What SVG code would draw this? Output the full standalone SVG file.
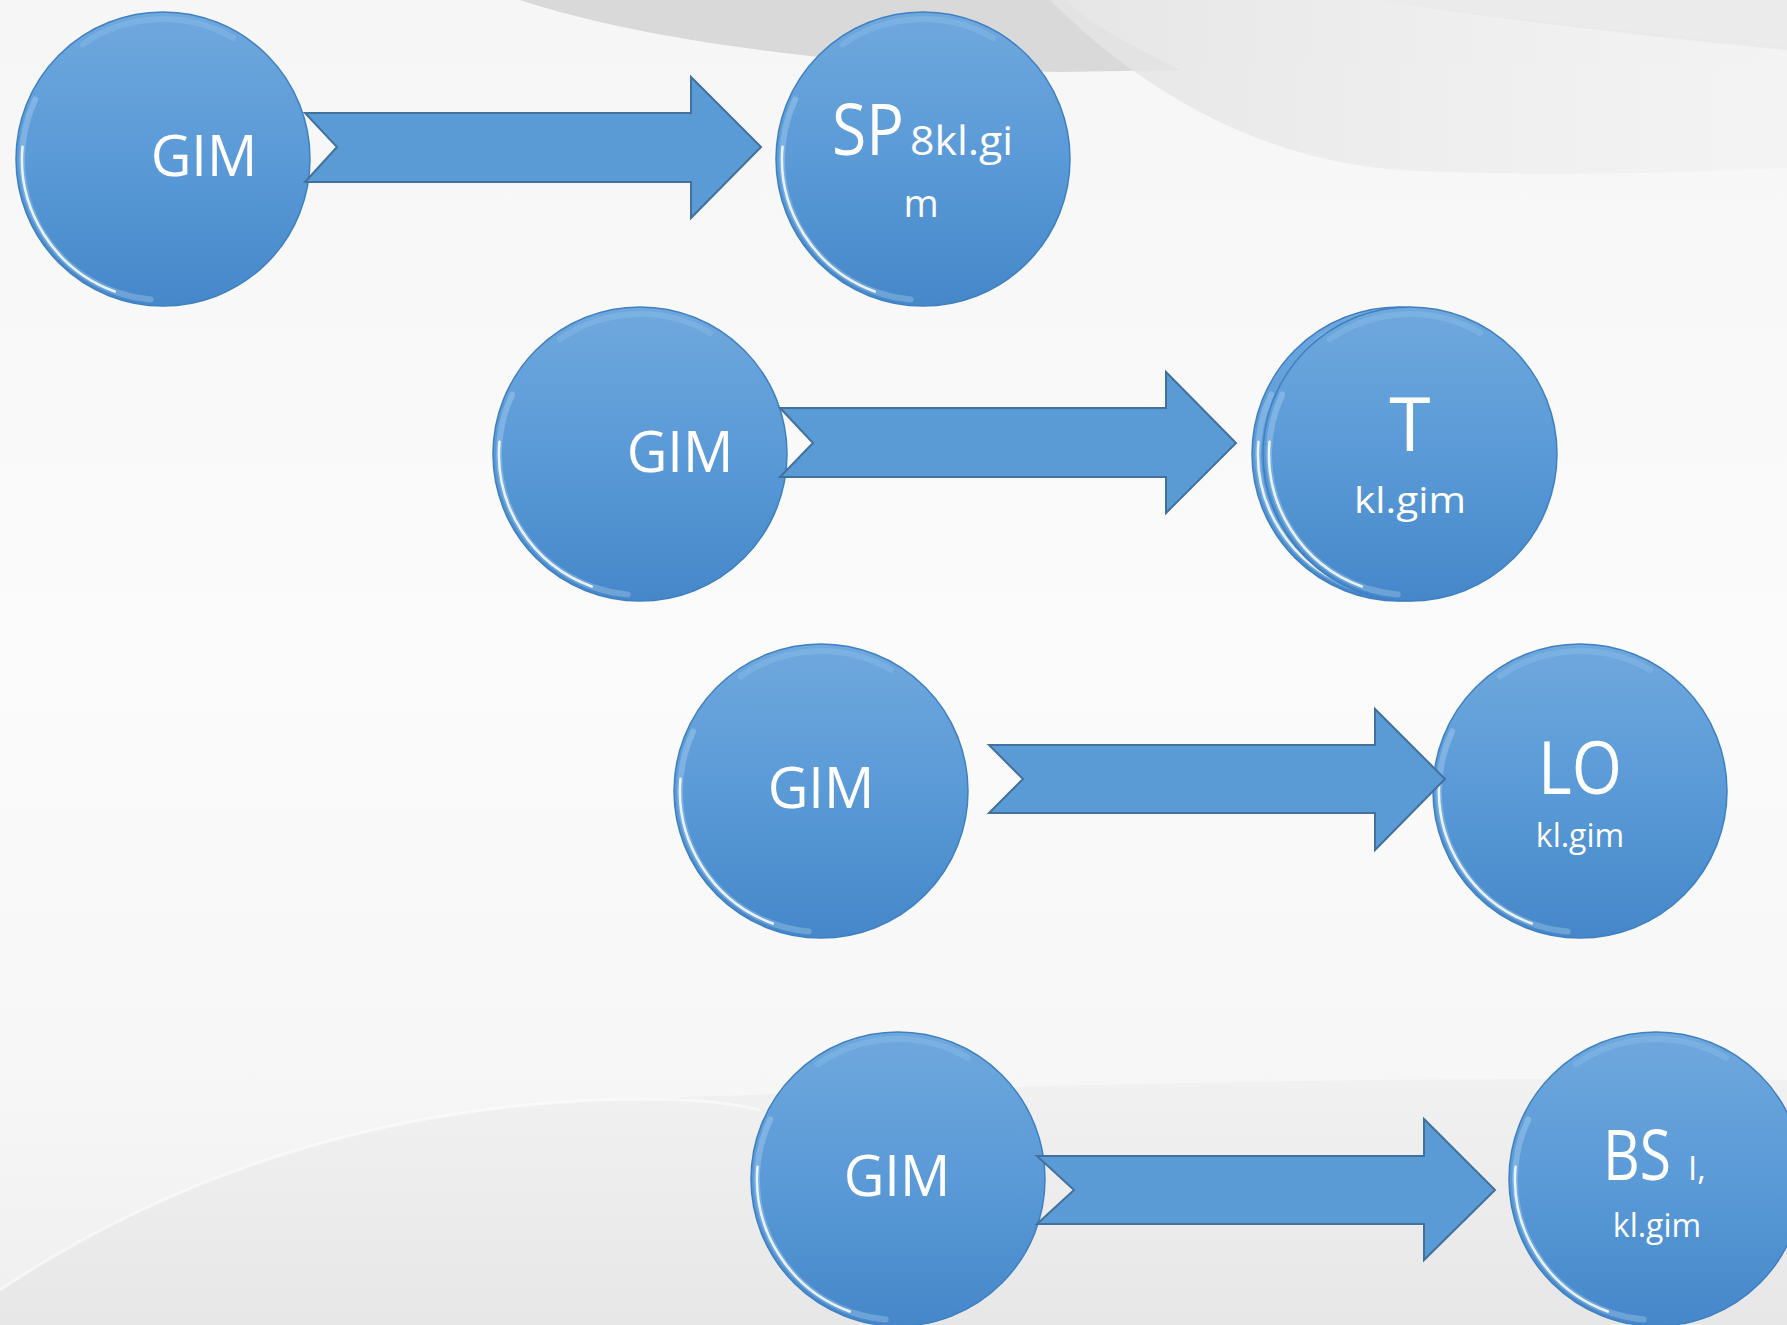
<svg xmlns="http://www.w3.org/2000/svg" xmlns:xlink="http://www.w3.org/1999/xlink" width="1787" height="1325" viewBox="0 0 1787 1325">
<style>
.lbl{font-family:"Open Sans","Noto Sans","Liberation Sans",sans-serif;fill:#ffffff;}
.arrow{fill:#5b9bd5;stroke:#41719c;stroke-width:2;stroke-linejoin:miter;}
</style>
<defs>
<linearGradient id="bgGrad" x1="0" y1="0" x2="0" y2="1">
<stop offset="0" stop-color="#f6f6f6"/>
<stop offset="0.5" stop-color="#fbfbfb"/>
<stop offset="0.8" stop-color="#f7f7f7"/>
<stop offset="1" stop-color="#efefef"/>
</linearGradient>
<linearGradient id="botGrad" x1="0" y1="0" x2="0" y2="1">
<stop offset="0" stop-color="#f1f1f1"/>
<stop offset="1" stop-color="#e8e7e7"/>
</linearGradient>
<linearGradient id="hatchGrad" x1="0" y1="0" x2="1" y2="0">
<stop offset="0" stop-color="#e4e4e4" stop-opacity="0.9"/>
<stop offset="1" stop-color="#eeeeee" stop-opacity="0.4"/>
</linearGradient>
<linearGradient id="ballGrad" x1="0" y1="0" x2="0" y2="1">
<stop offset="0" stop-color="#6fa8dd"/>
<stop offset="0.5" stop-color="#5a9ad7"/>
<stop offset="1" stop-color="#4587c9"/>
</linearGradient>
<g id="bubble">
<circle cx="0" cy="0" r="147" fill="url(#ballGrad)" stroke="#3f80c2" stroke-width="1.5"/>
<path d="M -12.3 140.5 A 141 141 0 0 1 -127.8 -59.6" fill="none" stroke="#dff3ff" stroke-width="6" stroke-opacity="0.25" stroke-linecap="round"/>
<path d="M -48.2 132.5 A 141 141 0 0 1 -140.5 -12.3" fill="none" stroke="#ffffff" stroke-width="2.5" stroke-opacity="0.85" stroke-linecap="round"/>
<path d="M -80.3 -114.7 A 140 140 0 0 1 70 -121.2" fill="none" stroke="#a9d6f7" stroke-width="6" stroke-opacity="0.22" stroke-linecap="round"/>
</g>
</defs>

<g id="background">
<rect x="0" y="0" width="1787" height="1325" fill="url(#bgGrad)"/>
<path d="M 520 0 C 640 40 850 68 1060 72 L 1180 70 C 1120 40 1085 20 1065 0 Z" fill="#d9d9d9"/>
<path d="M 1050 0 C 1130 80 1250 160 1400 170 C 1550 178 1700 172 1787 168 L 1787 45 C 1650 35 1480 15 1380 0 Z" fill="url(#hatchGrad)"/>
<path d="M 1380 0 C 1500 20 1680 40 1787 50 L 1787 0 Z" fill="#e4e4e4" fill-opacity="0.6"/>
<path d="M 0 1325 L 0 1290 C 150 1190 350 1110 600 1100 C 900 1090 1300 1075 1787 1080 L 1787 1325 Z" fill="url(#botGrad)"/>
<path d="M 0 1290 C 150 1190 350 1110 600 1100 C 680 1098 720 1100 760 1110" fill="none" stroke="#ffffff" stroke-width="3" stroke-opacity="0.5"/>
</g>

<g id="node-gim1">
<use xlink:href="#bubble" x="163" y="159"/>
<text class="lbl" x="204" y="176" font-size="56" text-anchor="middle">GIM</text>
</g>
<g id="node-sp">
<use xlink:href="#bubble" x="923" y="159"/>
<text class="lbl" x="832" y="155" font-size="72" textLength="72" lengthAdjust="spacingAndGlyphs">SP</text>
<text class="lbl" x="910" y="155" font-size="40" textLength="103" lengthAdjust="spacingAndGlyphs">8kl.gi</text>
<text class="lbl" x="921" y="217" font-size="38" text-anchor="middle">m</text>
</g>

<g id="node-gim2">
<use xlink:href="#bubble" x="640" y="454"/>
<text class="lbl" x="680" y="472" font-size="56" text-anchor="middle">GIM</text>
</g>
<g id="node-t">
<use xlink:href="#bubble" x="1399" y="454"/>
<use xlink:href="#bubble" x="1410" y="454"/>
<text class="lbl" x="1410" y="451" font-size="75" text-anchor="middle">T</text>
<text class="lbl" x="1410" y="513" font-size="37" text-anchor="middle" textLength="112" lengthAdjust="spacingAndGlyphs">kl.gim</text>
</g>

<g id="node-gim3">
<use xlink:href="#bubble" x="821" y="791"/>
<text class="lbl" x="821" y="808" font-size="56" text-anchor="middle">GIM</text>
</g>
<g id="node-lo">
<use xlink:href="#bubble" x="1580" y="791"/>
<text class="lbl" x="1580" y="794" font-size="73" text-anchor="middle" textLength="84" lengthAdjust="spacingAndGlyphs">LO</text>
<text class="lbl" x="1580" y="847" font-size="32" text-anchor="middle">kl.gim</text>
</g>

<g id="node-gim4">
<use xlink:href="#bubble" x="898" y="1179"/>
<text class="lbl" x="897" y="1196" font-size="56" text-anchor="middle">GIM</text>
</g>
<g id="node-bs">
<use xlink:href="#bubble" x="1656" y="1179"/>
<text class="lbl" x="1603" y="1180" font-size="70" textLength="68" lengthAdjust="spacingAndGlyphs">BS</text>
<text class="lbl" x="1688" y="1180" font-size="33">I,</text>
<text class="lbl" x="1657" y="1237" font-size="32" text-anchor="middle">kl.gim</text>
</g>

<g id="connectors">
<polygon class="arrow" points="305,113 691,113 691,77 761,147 691,218 691,182 305,182 337,147"/>
<polygon class="arrow" points="780,408 1166,408 1166,372 1236,443 1166,513 1166,477 780,477 813,443"/>
<polygon class="arrow" points="989,745 1375,745 1375,709 1445,779 1375,850 1375,813 989,813 1023,779"/>
<polygon class="arrow" points="1037,1156 1424,1156 1424,1119 1495,1190 1424,1260 1424,1224 1037,1224 1074,1190"/>
</g>
</svg>
